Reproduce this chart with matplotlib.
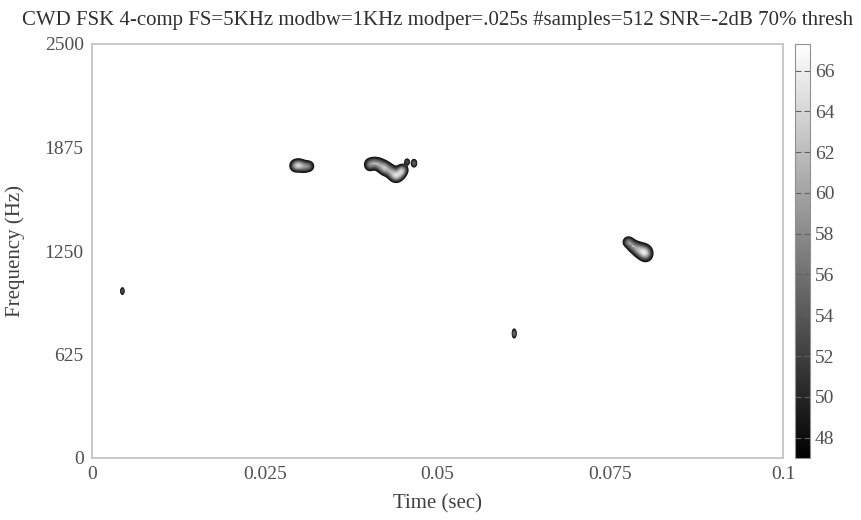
import numpy as np
import matplotlib
matplotlib.use('Agg')
import matplotlib.pyplot as plt

# blob components: time (s), frequency (Hz), height above floor, widths
blob_t = [0.0294, 0.0300, 0.0307, 0.0314,
          0.0402, 0.0409, 0.0416, 0.0423, 0.0430, 0.0436, 0.0441, 0.0446, 0.0450,
          0.0456, 0.0466,
          0.0776, 0.0782, 0.0789, 0.0796, 0.0802,
          0.0044, 0.0611]
blob_f = [1765, 1768, 1760, 1762,
          1772, 1782, 1770, 1752, 1738, 1716, 1698, 1722, 1740,
          1788, 1780,
          1304, 1282, 1262, 1248, 1236,
          1008, 752]
blob_amp = [10, 12, 9, 8,
            10, 9, 10, 13, 9, 12, 9, 13, 9,
            7, 9,
            10, 9, 10, 11, 13,
            8, 10]
blob_wt = [0.00042, 0.00042, 0.00042, 0.0004,
           0.00042, 0.00042, 0.00042, 0.00042, 0.00042, 0.00042, 0.0004, 0.00042, 0.0004,
           0.0002, 0.00022,
           0.0004, 0.00042, 0.00045, 0.0005, 0.0005,
           0.00014, 0.00015]
blob_wf = [19, 19, 19, 17,
           20, 18, 21, 22, 22, 22, 18, 21, 18,
           11, 13,
           17, 20, 22, 25, 25,
           12, 15]
floor_level = 46

t_max = 0.1
f_max = 2500
level_min, level_max = 47, 67.3
cbar_ticks = [48, 50, 52, 54, 56, 58, 60, 62, 64, 66]
x_ticks = [0, 0.025, 0.05, 0.075, 0.1]
x_ticklabels = ['0', '0.025', '0.05', '0.075', '0.1']
y_ticks = [0, 625, 1250, 1875, 2500]
title = 'CWD FSK 4-comp FS=5KHz modbw=1KHz modper=.025s #samples=512 SNR=-2dB 70% thresh'


def main():
    plt.rcParams['font.family'] = ['Liberation Serif', 'DejaVu Serif']
    t = np.linspace(0, t_max, 1400)
    f = np.linspace(0, f_max, 1000)
    T, F = np.meshgrid(t, f)
    Z = np.full_like(T, floor_level)
    for bt, bf, a, wt, wf in zip(blob_t, blob_f, blob_amp, blob_wt, blob_wf):
        Z += a * np.exp(-((T - bt) / wt) ** 2 / 2 - ((F - bf) / wf) ** 2 / 2)
    Z = np.minimum(Z, 67)

    fig = plt.figure(figsize=(8.62, 5.2), dpi=100)
    ax = fig.add_axes([92 / 862, 1 - 458 / 520, 691 / 862, 414 / 520])
    cax = fig.add_axes([795 / 862, 1 - 458 / 520, 15 / 862, 414 / 520])

    levels = np.arange(48, 67, 1.0)
    ax.contour(T, F, Z, levels=levels, cmap='gray', vmin=level_min, vmax=level_max,
               linewidths=0.9)

    ax.set_xlim(0, t_max)
    ax.set_ylim(0, f_max)
    ax.set_xticks(x_ticks)
    ax.set_xticklabels(x_ticklabels)
    ax.set_yticks(y_ticks)
    for s in ax.spines.values():
        s.set_color('#c0c0c0')
        s.set_linewidth(1.2)
    ax.tick_params(length=0, labelsize=14, labelcolor='#505050', pad=6)
    ax.set_xlabel('Time (sec)', fontsize=15, color='#404040', labelpad=8)
    ax.set_ylabel('Frequency (Hz)', fontsize=15, color='#404040', labelpad=14)
    ax.set_title(title, fontsize=15, color='#303030', pad=14)

    sm = plt.cm.ScalarMappable(cmap='gray', norm=plt.Normalize(level_min, level_max))
    cb = fig.colorbar(sm, cax=cax, ticks=cbar_ticks)
    cb.outline.set_color('#909090')
    cax.tick_params(labelsize=14, labelcolor='#505050', direction='in', length=4,
                    color='#606060', left=True, right=True)

    plt.savefig('out.png', dpi=100)


if __name__ == '__main__':
    main()
